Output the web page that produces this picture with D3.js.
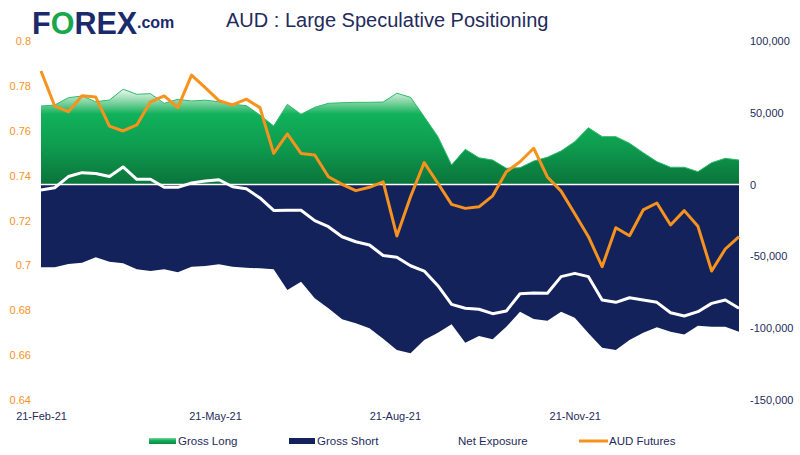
<!DOCTYPE html>
<html>
<head>
<meta charset="utf-8">
<script src="https://cdn.jsdelivr.net/npm/d3@7"></script>
<style>
html,body{margin:0;padding:0;background:#fff;}
svg{display:block;font-family:"Liberation Sans",Arial,sans-serif;}
</style>
</head>
<body>
<svg id="chart" width="800" height="455"></svg>
<script>
const dates = ["2021-02-21","2021-02-28","2021-03-07","2021-03-14","2021-03-21","2021-03-28","2021-04-04","2021-04-11","2021-04-18","2021-04-25",
"2021-05-02","2021-05-09","2021-05-16","2021-05-23","2021-05-30","2021-06-06","2021-06-13","2021-06-20","2021-06-27","2021-07-04",
"2021-07-11","2021-07-18","2021-07-25","2021-08-01","2021-08-08","2021-08-15","2021-08-22","2021-08-29","2021-09-05","2021-09-12",
"2021-09-19","2021-09-26","2021-10-03","2021-10-10","2021-10-17","2021-10-24","2021-10-31","2021-11-07","2021-11-14","2021-11-21",
"2021-11-28","2021-12-05","2021-12-12","2021-12-19","2021-12-26","2022-01-02","2022-01-09","2022-01-16","2022-01-23","2022-01-30",
"2022-02-06","2022-02-13"];
const grossLong = [54700,55400,60500,61700,57700,58900,66400,62900,63300,56600,
59400,58200,58800,57700,55900,55000,48500,40800,55900,49000,
53800,56600,57000,57300,57300,57500,63600,60800,47300,33400,
13700,24600,18700,17100,11400,11800,16400,19100,23400,29900,
39600,33400,33400,28800,22200,16000,12100,12100,9000,15300,
18300,17100];
const grossShort = [-57600,-57600,-55300,-54400,-50600,-53700,-54800,-59000,-60200,-59000,
-61100,-57200,-56700,-55500,-57200,-57900,-58300,-59000,-73400,-67600,
-79200,-86100,-93800,-96600,-100100,-107400,-115200,-117500,-108200,-103100,
-97300,-110100,-105400,-107700,-99000,-88500,-93600,-94800,-88500,-92700,
-103600,-113600,-115200,-108200,-103100,-99400,-102400,-104300,-98300,-99000,
-99000,-102400];
const netExposure = [-3800,-2200,5600,8300,7700,5600,12300,3700,3700,-1900,
-1900,1100,2500,3400,-1500,-2900,-9300,-18000,-17900,-17900,
-25100,-29300,-36300,-39800,-42100,-49400,-50600,-56500,-60200,-70400,
-83400,-86100,-86800,-89900,-88000,-76000,-75500,-75700,-64100,-61800,
-64100,-80400,-82000,-78800,-80400,-82000,-89200,-91500,-88500,-82700,
-80400,-86100];
const audFutures = [0.7866,0.7710,0.7685,0.7756,0.7750,0.7621,0.7599,0.7626,0.7729,0.7755,
0.7703,0.7848,0.7792,0.7734,0.7715,0.7741,0.7703,0.7499,0.7586,0.7499,
0.7492,0.7395,0.7361,0.7333,0.7348,0.7372,0.7131,0.7306,0.7458,0.7366,
0.7272,0.7254,0.7261,0.7310,0.7417,0.7462,0.7522,0.7394,0.7331,0.7230,
0.7128,0.6994,0.7168,0.7132,0.7247,0.7278,0.7180,0.7244,0.7174,0.6975,
0.7073,0.7128];
const leftTicks = [0.64,0.66,0.68,0.7,0.72,0.74,0.76,0.78,0.8];
const rightTicks = [-150000,-100000,-50000,0,50000,100000];
const xTicks = ["2021-02-21","2021-05-21","2021-08-21","2021-11-21"];
const legendItems = ["Gross Long","Gross Short","Net Exposure","AUD Futures"];
const titleText = "AUD : Large Speculative Positioning";

const parse = d3.timeParse("%Y-%m-%d");
const data = dates.map((d,i)=>({date:parse(d),long:grossLong[i],short:grossShort[i],net:netExposure[i],aud:audFutures[i]}));

const NAVY = "#13225a", ORANGE = "#f7921e", TEXT = "#1f2b5b";
const svg = d3.select("#chart");

const x = d3.scaleTime().domain(d3.extent(data,d=>d.date)).range([41,739]);
const yR = d3.scaleLinear().domain([-150000,100000]).range([400,41]);
const yL = d3.scaleLinear().domain([0.64,0.8]).range([400,41]);

const defs = svg.append("defs");
const g1 = defs.append("linearGradient").attr("id","gl").attr("gradientUnits","userSpaceOnUse")
  .attr("x1",0).attr("x2",0).attr("y1",yR(d3.max(grossLong))).attr("y2",yR(0));
[[0,"#eef9f1"],[0.12,"#8fd8aa"],[0.26,"#11b15b"],[0.6,"#0e9c4f"],[1,"#0a733a"]].forEach(s=>g1.append("stop").attr("offset",s[0]).attr("stop-color",s[1]));
const g2 = defs.append("linearGradient").attr("id","gls").attr("x1",0).attr("x2",0).attr("y1",0).attr("y2",1);
[[0,"#7fd6a0"],[0.4,"#12b15b"],[1,"#0b8a45"]].forEach(s=>g2.append("stop").attr("offset",s[0]).attr("stop-color",s[1]));

// areas
svg.append("path").datum(data)
  .attr("d",d3.area().x(d=>x(d.date)).y0(yR(0)).y1(d=>yR(d.short)))
  .attr("fill",NAVY);
svg.append("path").datum(data)
  .attr("d",d3.area().x(d=>x(d.date)).y0(yR(0)).y1(d=>yR(d.long)))
  .attr("fill","url(#gl)");
svg.append("path").datum(data)
  .attr("d",d3.line().x(d=>x(d.date)).y(d=>yR(d.long)))
  .attr("fill","none").attr("stroke","#2dbb6c").attr("stroke-width",1);

// zero line
svg.append("line").attr("x1",x.range()[0]).attr("x2",x.range()[1]).attr("y1",yR(0)).attr("y2",yR(0))
  .attr("stroke","#fff").attr("stroke-width",1.5);

// net line
svg.append("path").datum(data)
  .attr("d",d3.line().x(d=>x(d.date)).y(d=>yR(d.net)))
  .attr("fill","none").attr("stroke","#fff").attr("stroke-width",3).attr("stroke-linejoin","round");

// AUD futures
svg.append("path").datum(data)
  .attr("d",d3.line().x(d=>x(d.date)).y(d=>yL(d.aud)))
  .attr("fill","none").attr("stroke",ORANGE).attr("stroke-width",3).attr("stroke-linejoin","round");

// axes
const axL = svg.append("g").attr("transform","translate(34,0)")
  .call(d3.axisLeft(yL).tickValues(leftTicks).tickSize(0).tickPadding(3).tickFormat(d3.format("~g")));
axL.select(".domain").remove();
axL.selectAll("text").attr("fill",ORANGE).style("font-size","11px").style("font-family","'Liberation Sans',Arial,sans-serif");

const axR = svg.append("g").attr("transform","translate(747,0)")
  .call(d3.axisRight(yR).tickValues(rightTicks).tickSize(0).tickPadding(3).tickFormat(d=>d3.format(",")(d).replace("\u2212","-")));
axR.select(".domain").remove();
axR.selectAll("text").attr("fill",TEXT).style("font-size","11px").style("font-family","'Liberation Sans',Arial,sans-serif");

const axB = svg.append("g").attr("transform","translate(0,400)")
  .call(d3.axisBottom(x).tickValues(xTicks.map(parse)).tickSize(0).tickPadding(12).tickFormat(d3.timeFormat("%d-%b-%y")));
axB.select(".domain").remove();
axB.selectAll("text").attr("fill",TEXT).style("font-size","11px").style("font-family","'Liberation Sans',Arial,sans-serif");

// title
svg.append("text").attr("x",226).attr("y",27).attr("fill",TEXT)
  .style("font-size","20px").text(titleText);

// logo
const logo = svg.append("text").attr("x",32).attr("y",34).style("font-size","30.5px").style("font-weight","bold");
logo.append("tspan").attr("fill","#1b2a6b").text("F");
logo.append("tspan").attr("fill","#17a84f").text("O");
logo.append("tspan").attr("fill","#1b2a6b").text("REX");
svg.append("text").attr("x",137).attr("y",28).attr("fill","#1b2a6b").style("font-size","16px").style("font-weight","bold").text(".com");

// legend
const ly = 441;
const lg = svg.append("g");
lg.append("rect").attr("x",149).attr("y",ly-3).attr("width",27).attr("height",6).attr("fill","url(#gls)");
lg.append("rect").attr("x",289).attr("y",ly-3).attr("width",26).attr("height",6).attr("fill",NAVY);
lg.append("line").attr("x1",430).attr("x2",456).attr("y1",ly).attr("y2",ly).attr("stroke","#fff").attr("stroke-width",3);
lg.append("line").attr("x1",579).attr("x2",608).attr("y1",ly).attr("y2",ly).attr("stroke",ORANGE).attr("stroke-width",3);
const lx = [178,317,458,609];
legendItems.forEach((t,i)=>{
  lg.append("text").attr("x",lx[i]).attr("y",ly).attr("dy","0.35em").attr("fill",TEXT).style("font-size","11.5px").text(t);
});
</script>
</body>
</html>
